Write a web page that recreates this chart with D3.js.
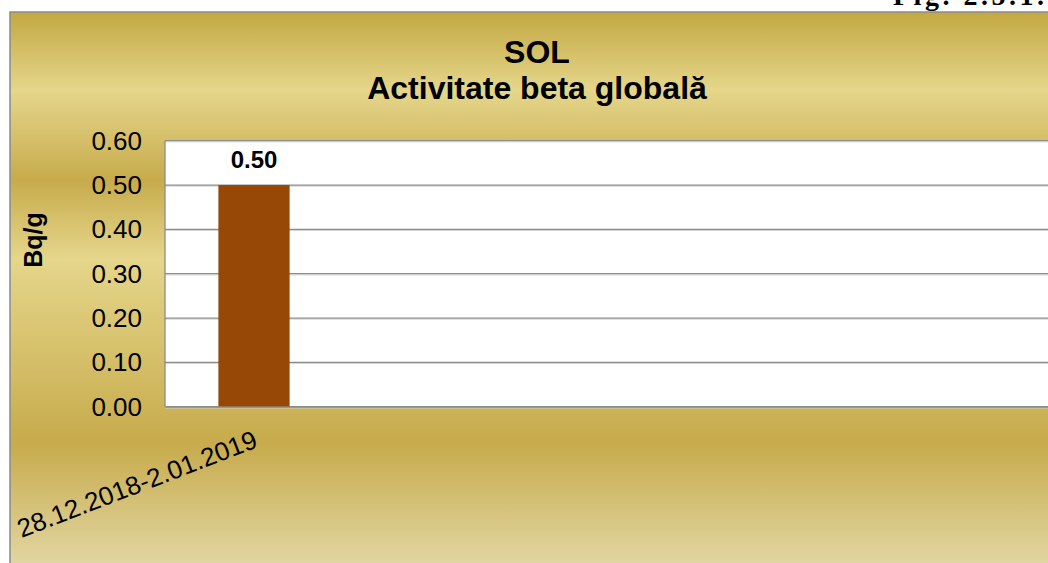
<!DOCTYPE html>
<html>
<head>
<meta charset="utf-8">
<script src="https://cdn.jsdelivr.net/npm/d3@7"></script>
<style>
  html, body { margin: 0; padding: 0; background: #ffffff; }
  svg { display: block; }
</style>
</head>
<body>
<svg id="chart" width="1048" height="563"></svg>
<script>
// ---- data ----
const categories = ["28.12.2018-2.01.2019", "", "", "", ""];
const values = [0.50, null, null, null, null];
const yTicks = [0, 0.1, 0.2, 0.3, 0.4, 0.5, 0.6];
const titleLines = ["SOL", "Activitate beta globală"];
const yAxisTitle = "Bq/g";
const figLabel = "Fig. 2.5.1.";

const svg = d3.select("#chart");
const font = "'Liberation Sans', Arial, sans-serif";

// background gradient (Office gold)
const defs = svg.append("defs");
const grad = defs.append("linearGradient").attr("id", "gold")
  .attr("x1", 0).attr("y1", 0).attr("x2", 0).attr("y2", 1);
[[0, "#c3a842"], [0.14, "#e5d68b"], [0.30, "#c7ab4c"], [0.44, "#e5d68b"], [0.77, "#c7ab4c"], [1, "#e3d9a8"]]
  .forEach(([o, c]) => grad.append("stop").attr("offset", o).attr("stop-color", c));

// fig label (partly covered by chart)
svg.append("text").attr("x", 893).attr("y", 5)
  .attr("font-family", "'Liberation Serif', 'Times New Roman', serif")
  .attr("font-weight", "bold").attr("font-size", 28).attr("letter-spacing", 3.5)
  .attr("fill", "#000").text(figLabel);

// chart area
svg.append("rect").attr("x", 10).attr("y", 12).attr("width", 1060).attr("height", 560)
  .attr("fill", "url(#gold)").attr("stroke", "#8a8a8a").attr("stroke-width", 1.5);

// plot area
const plot = { left: 165, right: 1055, top: 140.7, bottom: 406.7 };
const x = d3.scaleBand().domain(d3.range(categories.length))
  .range([plot.left, plot.right]).paddingInner(0).paddingOuter(0);
const y = d3.scaleLinear().domain([0, 0.6]).range([plot.bottom, plot.top]);

svg.append("rect").attr("x", plot.left).attr("y", plot.top)
  .attr("width", plot.right - plot.left).attr("height", plot.bottom - plot.top)
  .attr("fill", "#ffffff");

// gridlines
const grid = svg.append("g");
grid.selectAll("line.sh").data(yTicks).join("line")
  .attr("x1", plot.left).attr("x2", plot.right)
  .attr("y1", d => y(d) + 1.2).attr("y2", d => y(d) + 1.2)
  .attr("stroke", "#d4d4d4").attr("stroke-width", 1);
grid.selectAll("line.g").data(yTicks).join("line")
  .attr("x1", plot.left).attr("x2", plot.right)
  .attr("y1", d => y(d)).attr("y2", d => y(d))
  .attr("stroke", "#8c8c8c").attr("stroke-width", 1.3);
svg.append("line").attr("x1", plot.left).attr("x2", plot.left)
  .attr("y1", plot.top).attr("y2", plot.bottom)
  .attr("stroke", "#8c8c8c").attr("stroke-width", 1.3);

// bars
const barW = x.bandwidth() / 2.5;
svg.append("g").selectAll("rect").data(values.map((v, i) => ({ v, i })).filter(d => d.v != null))
  .join("rect")
  .attr("x", d => x(d.i) + (x.bandwidth() - barW) / 2)
  .attr("y", d => y(d.v))
  .attr("width", barW)
  .attr("height", d => y(0) - y(d.v))
  .attr("fill", "#974706");

// data labels
svg.append("g").selectAll("text").data(values.map((v, i) => ({ v, i })).filter(d => d.v != null))
  .join("text")
  .attr("x", d => x(d.i) + x.bandwidth() / 2)
  .attr("y", d => y(d.v) - 17)
  .attr("text-anchor", "middle")
  .attr("font-family", font).attr("font-weight", "bold").attr("font-size", 24)
  .attr("fill", "#000")
  .text(d => d3.format(".2f")(d.v));

// y axis
const yAxis = d3.axisLeft(y).tickValues(yTicks).tickFormat(d3.format(".2f")).tickSize(0).tickPadding(23);
const ya = svg.append("g").attr("transform", `translate(${plot.left},0)`).call(yAxis);
ya.select(".domain").remove();
ya.selectAll("text").attr("font-family", font).attr("font-size", 26).attr("fill", "#000");

// x axis labels
const xAxis = d3.axisBottom(x).tickFormat(i => categories[i]).tickSize(0);
const xa = svg.append("g").attr("transform", `translate(0,${plot.bottom})`).call(xAxis);
xa.select(".domain").attr("stroke", "#8c8c8c").attr("stroke-width", 1.3);
xa.selectAll("text")
  .attr("font-family", font).attr("font-size", 26).attr("fill", "#000")
  .attr("text-anchor", "end").attr("dy", null).attr("y", 0)
  .attr("transform", "translate(5,40) rotate(-21)")
  .attr("x", 0);

// axis title
svg.append("text")
  .attr("transform", "translate(42,240) rotate(-90)")
  .attr("text-anchor", "middle")
  .attr("font-family", font).attr("font-weight", "bold").attr("font-size", 25)
  .attr("fill", "#000").text(yAxisTitle);

// chart title
svg.append("g").selectAll("text").data(titleLines).join("text")
  .attr("x", 537).attr("y", (d, i) => 63 + i * 35.5)
  .attr("text-anchor", "middle")
  .attr("font-family", font).attr("font-weight", "bold").attr("font-size", 32)
  .attr("fill", "#000").text(d => d);
</script>
</body>
</html>
